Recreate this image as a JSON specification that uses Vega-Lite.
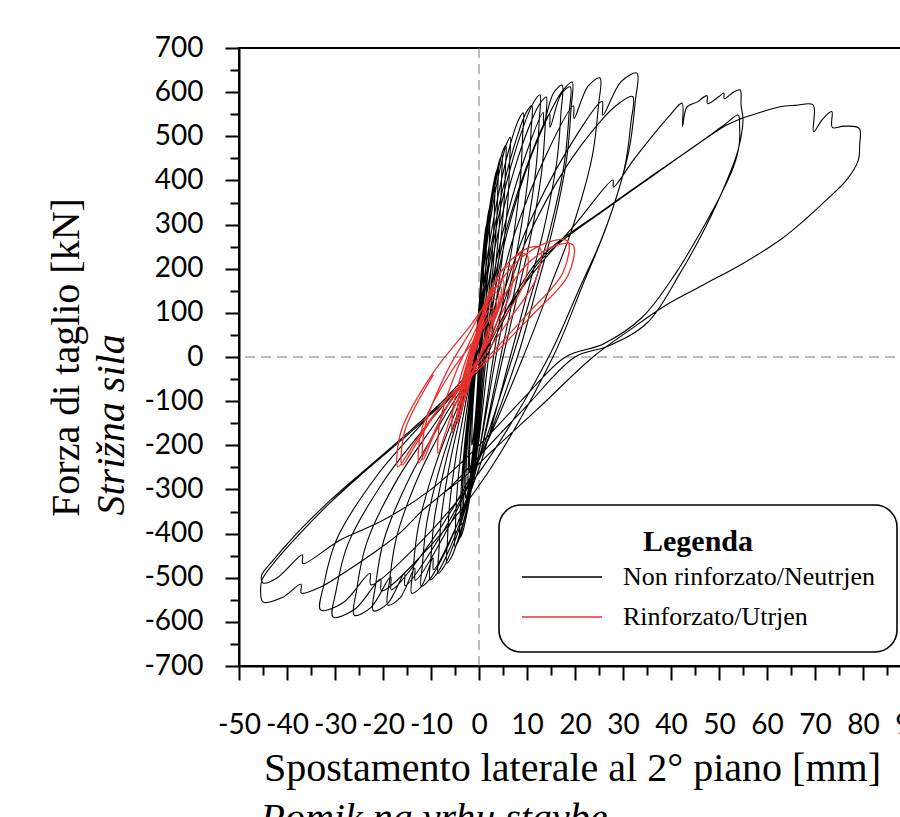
{
"$schema": "https://vega.github.io/schema/vega-lite/v6.json",
"width": 672, "height": 618,
"autosize": {"type": "none"},
"padding": {"left": 239, "top": 48, "right": 0, "bottom": 151},
"background": "white",
"config": {"view": {"stroke": "black", "strokeWidth": 2}, "axis": {"grid": false, "domainColor": "black", "tickColor": "black", "labelColor": "black", "titleColor": "black"}},
"datasets": {
"black": [
{"x":0,"y":0},{"x":0.3,"y":104},{"x":0.55,"y":166},{"x":0.78,"y":207},{"x":0.9,"y":223},{"x":1.0,"y":230},
{"x":0.98,"y":207},{"x":0.9,"y":166},{"x":0.65,"y":108},{"x":0.35,"y":58},{"x":0,"y":0},
{"x":-0.45,"y":-90},{"x":-0.83,"y":-144},{"x":-1.17,"y":-180},{"x":-1.35,"y":-194},{"x":-1.5,"y":-200},
{"x":-1.48,"y":-180},{"x":-1.4,"y":-144},{"x":-1.15,"y":-94},{"x":-0.85,"y":-50},{"x":-0.5,"y":0},
{"x":0.13,"y":135},{"x":0.66,"y":216},{"x":1.14,"y":270},{"x":1.39,"y":291},{"x":1.6,"y":300},
{"x":1.57,"y":270},{"x":1.46,"y":216},{"x":1.11,"y":141},{"x":0.69,"y":75},{"x":0.2,"y":0},
{"x":-0.46,"y":-117},{"x":-1.01,"y":-187},{"x":-1.52,"y":-234},{"x":-1.78,"y":-252},{"x":-2.0,"y":-260},
{"x":-1.97,"y":-234},{"x":-1.86,"y":-187},{"x":-1.51,"y":-122},{"x":-1.09,"y":-65},{"x":-0.6,"y":0},
{"x":0.27,"y":153},{"x":1.0,"y":245},{"x":1.66,"y":306},{"x":2.01,"y":330},{"x":2.3,"y":340},
{"x":2.26,"y":306},{"x":2.11,"y":245},{"x":1.64,"y":160},{"x":1.07,"y":85},{"x":0.4,"y":0},
{"x":-0.41,"y":-131},{"x":-1.09,"y":-209},{"x":-1.71,"y":-261},{"x":-2.03,"y":-281},{"x":-2.3,"y":-290},
{"x":-2.27,"y":-261},{"x":-2.14,"y":-209},{"x":-1.74,"y":-136},{"x":-1.26,"y":-73},{"x":-0.7,"y":0},
{"x":0.5,"y":176},{"x":1.5,"y":281},{"x":2.42,"y":351},{"x":2.9,"y":378},{"x":3.3,"y":390},
{"x":3.25,"y":351},{"x":3.04,"y":281},{"x":2.39,"y":183},{"x":1.61,"y":98},{"x":0.7,"y":0},
{"x":-0.35,"y":-144},{"x":-1.23,"y":-230},{"x":-2.03,"y":-288},{"x":-2.45,"y":-310},{"x":-2.8,"y":-320},
{"x":-2.76,"y":-288},{"x":-2.6,"y":-230},{"x":-2.1,"y":-150},{"x":-1.5,"y":-80},{"x":-0.8,"y":0},
{"x":0.64,"y":194},{"x":1.84,"y":310},{"x":2.94,"y":387},{"x":3.52,"y":417},{"x":4.0,"y":430},
{"x":3.94,"y":387},{"x":3.69,"y":310},{"x":2.92,"y":202},{"x":1.99,"y":108},{"x":0.9,"y":0},
{"x":-0.33,"y":-158},{"x":-1.36,"y":-252},{"x":-2.3,"y":-315},{"x":-2.79,"y":-340},{"x":-3.2,"y":-350},
{"x":-3.15,"y":-315},{"x":-2.97,"y":-252},{"x":-2.4,"y":-165},{"x":-1.71,"y":-88},{"x":-0.9,"y":0},
{"x":0.81,"y":206},{"x":2.24,"y":330},{"x":3.55,"y":412},{"x":4.23,"y":444},{"x":4.8,"y":458},
{"x":4.73,"y":412},{"x":4.44,"y":330},{"x":3.54,"y":215},{"x":2.46,"y":115},{"x":1.2,"y":0},
{"x":-0.24,"y":-171},{"x":-1.44,"y":-274},{"x":-2.54,"y":-342},{"x":-3.12,"y":-369},{"x":-3.6,"y":-380},
{"x":-3.55,"y":-342},{"x":-3.34,"y":-274},{"x":-2.69,"y":-179},{"x":-1.91,"y":-95},{"x":-1.0,"y":0},
{"x":0.98,"y":216},{"x":2.63,"y":346},{"x":4.15,"y":432},{"x":4.94,"y":466},{"x":5.6,"y":480},
{"x":5.52,"y":432},{"x":5.19,"y":346},{"x":4.17,"y":226},{"x":2.94,"y":120},{"x":1.5,"y":0},
{"x":-0.15,"y":-185},{"x":-1.53,"y":-295},{"x":-2.79,"y":-369},{"x":-3.45,"y":-398},{"x":-4.0,"y":-410},
{"x":-3.94,"y":-369},{"x":-3.7,"y":-295},{"x":-2.95,"y":-193},{"x":-2.05,"y":-103},{"x":-1.0,"y":0},
{"x":1.25,"y":224},{"x":3.13,"y":359},{"x":4.85,"y":448},{"x":5.75,"y":483},{"x":6.5,"y":498},
{"x":6.41,"y":448},{"x":6.05,"y":359},{"x":4.93,"y":234},{"x":3.58,"y":125},{"x":2.0,"y":0},
{"x":-0.1,"y":-194},{"x":-1.85,"y":-310},{"x":-3.46,"y":-387},{"x":-4.3,"y":-417},{"x":-5.0,"y":-430},
{"x":-4.92,"y":-387},{"x":-4.6,"y":-310},{"x":-3.6,"y":-202},{"x":-2.4,"y":-108},{"x":-1.0,"y":0},
{"x":2.06,"y":249},{"x":4.61,"y":398},{"x":6.96,"y":498},{"x":8.18,"y":536},{"x":9.2,"y":553},
{"x":9.08,"y":498},{"x":8.58,"y":398},{"x":7.03,"y":260},{"x":5.17,"y":138},{"x":3.0,"y":0},
{"x":0.09,"y":-210},{"x":-2.34,"y":-336},{"x":-4.57,"y":-420},{"x":-5.73,"y":-453},{"x":-6.7,"y":-467},
{"x":-6.59,"y":-420},{"x":-6.13,"y":-336},{"x":-4.71,"y":-219},{"x":-3.0,"y":-117},{"x":-1.0,"y":0},
{"x":2.6,"y":257},{"x":5.6,"y":410},{"x":8.36,"y":513},{"x":9.8,"y":553},{"x":11,"y":570},
{"x":10.85,"y":513},{"x":10.25,"y":410},{"x":8.38,"y":268},{"x":6.13,"y":143},{"x":3.5,"y":0},
{"x":-0.1,"y":-221},{"x":-3.1,"y":-353},{"x":-5.86,"y":-441},{"x":-7.3,"y":-475},{"x":-8.5,"y":-490},
{"x":-8.35,"y":-441},{"x":-7.75,"y":-353},{"x":-5.88,"y":-230},{"x":-3.63,"y":-123},{"x":-1.0,"y":0},
{"x":3.11,"y":267},{"x":6.54,"y":428},{"x":9.69,"y":535},{"x":11.33,"y":576},{"x":12.7,"y":594},
{"x":12.54,"y":535},{"x":11.88,"y":428},{"x":9.83,"y":279},{"x":7.37,"y":149},{"x":4.5,"y":0},
{"x":0.09,"y":-227},{"x":-3.59,"y":-364},{"x":-6.97,"y":-455},{"x":-8.73,"y":-490},{"x":-10.2,"y":-505},
{"x":-10.01,"y":-455},{"x":-9.26,"y":-364},{"x":-6.91,"y":-237},{"x":-4.09,"y":-126},{"x":-0.8,"y":0},
{"x":3.64,"y":265},{"x":7.34,"y":424},{"x":10.74,"y":530},{"x":12.52,"y":571},{"x":14,"y":589},
{"x":13.82,"y":530},{"x":13.1,"y":424},{"x":10.85,"y":277},{"x":8.15,"y":147},{"x":5.0,"y":0},
{"x":-0.1,"y":-234},{"x":-4.35,"y":-374},{"x":-8.26,"y":-468},{"x":-10.3,"y":-504},{"x":-12,"y":-520},
{"x":-11.77,"y":-468},{"x":-10.85,"y":-374},{"x":-7.98,"y":-244},{"x":-4.53,"y":-130},{"x":-0.5,"y":0},
{"x":4.84,"y":277},{"x":9.29,"y":444},{"x":13.38,"y":554},{"x":13.45,"y":528},{"x":15.52,"y":598},{"x":17.3,"y":616},
{"x":17.08,"y":554},{"x":16.22,"y":444},{"x":13.52,"y":290},{"x":10.28,"y":154},{"x":6.5,"y":0},
{"x":0.35,"y":-241},{"x":-4.78,"y":-385},{"x":-9.49,"y":-482},{"x":-9.6,"y":-455},{"x":-11.95,"y":-519},{"x":-14,"y":-535},
{"x":-13.73,"y":-482},{"x":-12.65,"y":-385},{"x":-9.28,"y":-251},{"x":-5.23,"y":-134},{"x":-0.5,"y":0},
{"x":5.35,"y":275},{"x":10.23,"y":441},{"x":14.71,"y":551},{"x":14.8,"y":520},{"x":17.05,"y":594},{"x":19,"y":612},
{"x":18.76,"y":551},{"x":17.8,"y":441},{"x":14.8,"y":288},{"x":11.2,"y":153},{"x":7.0,"y":0},
{"x":-0.8,"y":-253},{"x":-7.3,"y":-405},{"x":-13.28,"y":-506},{"x":-13.4,"y":-478},{"x":-16.4,"y":-545},{"x":-19,"y":-562},
{"x":-18.62,"y":-506},{"x":-17.1,"y":-405},{"x":-12.35,"y":-264},{"x":-6.65,"y":-141},{"x":0,"y":0},
{"x":5.82,"y":280},{"x":10.67,"y":449},{"x":15.13,"y":561},{"x":17.46,"y":604},{"x":19.4,"y":623},
{"x":19.17,"y":561},{"x":18.26,"y":449},{"x":15.41,"y":293},{"x":12.0,"y":156},{"x":8.0,"y":0},
{"x":-1.0,"y":-259},{"x":-8.5,"y":-414},{"x":-15.4,"y":-518},{"x":-15.5,"y":-490},{"x":-19,"y":-558},{"x":-22,"y":-575},
{"x":-21.56,"y":-518},{"x":-19.8,"y":-414},{"x":-14.3,"y":-270},{"x":-7.7,"y":-144},{"x":0,"y":0},
{"x":7.56,"y":284},{"x":13.86,"y":455},{"x":19.66,"y":569},{"x":19.8,"y":540},{"x":22.68,"y":613},{"x":25.2,"y":632},
{"x":24.88,"y":569},{"x":23.6,"y":455},{"x":19.6,"y":297},{"x":14.8,"y":158},{"x":9.2,"y":0},
{"x":-1.36,"y":-263},{"x":-10.16,"y":-421},{"x":-18.26,"y":-527},{"x":-18.4,"y":-498},{"x":-22.48,"y":-567},{"x":-26,"y":-585},
{"x":-25.48,"y":-527},{"x":-23.4,"y":-421},{"x":-16.9,"y":-275},{"x":-8.9,"y":-146},{"x":0,"y":0},
{"x":9.87,"y":289},{"x":18.1,"y":463},{"x":25.66,"y":579},{"x":25.8,"y":548},{"x":29.6,"y":624},{"x":32.9,"y":643},
{"x":32.55,"y":579},{"x":31.15,"y":463},{"x":26.78,"y":302},{"x":21.53,"y":161},{"x":15.4,"y":0},
{"x":1.66,"y":-265},{"x":-9.79,"y":-424},{"x":-20.32,"y":-530},{"x":-20.5,"y":-503},{"x":-25.82,"y":-571},{"x":-30.4,"y":-589},
{"x":-29.78,"y":-530},{"x":-27.31,"y":-424},{"x":-19.59,"y":-277},{"x":-10.32,"y":-147},{"x":0.5,"y":0},
{"x":9.95,"y":266},{"x":17.83,"y":425},{"x":25.07,"y":531},{"x":28.85,"y":572},{"x":32,"y":590},
{"x":31.65,"y":531},{"x":30.25,"y":425},{"x":25.88,"y":277},{"x":20.63,"y":148},{"x":14.5,"y":0},
{"x":0.25,"y":-258},{"x":-11.63,"y":-413},{"x":-22.55,"y":-516},{"x":-22.7,"y":-490},{"x":-28.25,"y":-556},{"x":-33,"y":-573},
{"x":-32.33,"y":-516},{"x":-29.65,"y":-413},{"x":-21.28,"y":-269},{"x":-11.23,"y":-143},{"x":0.5,"y":0},
{"x":6,"y":110},{"x":12,"y":200},{"x":20,"y":300},{"x":27.9,"y":401},{"x":28,"y":385},{"x":32.5,"y":451},{"x":39.8,"y":548},{"x":42.3,"y":575},{"x":42.4,"y":522},{"x":43.3,"y":566},{"x":45.5,"y":578},{"x":47.5,"y":592},{"x":47.6,"y":574},{"x":50,"y":590},{"x":51,"y":598},{"x":51.1,"y":585},{"x":53,"y":600},{"x":54.4,"y":605},
{"x":54.6,"y":570},{"x":55,"y":537},{"x":54,"y":470},{"x":51.7,"y":401},{"x":47,"y":290},{"x":41.9,"y":190},{"x":35,"y":77},{"x":27,"y":25},{"x":20,"y":0},
{"x":10,"y":-110},{"x":0,"y":-225},{"x":-6,"y":-295},{"x":-11.7,"y":-347},{"x":-16.5,"y":-399},{"x":-22,"y":-444},{"x":-28,"y":-488},{"x":-33,"y":-521},{"x":-37,"y":-535},{"x":-37.1,"y":-515},{"x":-41,"y":-545},{"x":-45,"y":-555},
{"x":-45.5,"y":-530},{"x":-45.2,"y":-505},{"x":-43,"y":-470},{"x":-38,"y":-408},{"x":-31,"y":-330},{"x":-24.2,"y":-263},{"x":-14.4,"y":-172},{"x":-6.7,"y":-97},{"x":0,"y":-30},{"x":1,"y":0},
{"x":4,"y":70},{"x":8,"y":150},{"x":12,"y":215},{"x":17,"y":265},{"x":25,"y":326},{"x":35,"y":403},{"x":45,"y":478},{"x":51,"y":525},{"x":54,"y":548},
{"x":54.3,"y":520},{"x":54.2,"y":480},{"x":53,"y":430},{"x":50.5,"y":370},{"x":46,"y":280},{"x":41,"y":190},{"x":34,"y":90},{"x":26,"y":30},{"x":18,"y":0},
{"x":10,"y":-85},{"x":0,"y":-200},{"x":-10,"y":-300},{"x":-20,"y":-370},{"x":-29,"y":-415},{"x":-36.7,"y":-468},{"x":-36.8,"y":-448},{"x":-42,"y":-500},{"x":-45,"y":-512},
{"x":-45.3,"y":-495},{"x":-43,"y":-462},{"x":-38,"y":-400},{"x":-31,"y":-325},{"x":-24,"y":-258},{"x":-14.4,"y":-168},{"x":-6.7,"y":-92},{"x":0,"y":-25},{"x":1.5,"y":0},
{"x":4.5,"y":70},{"x":8.5,"y":150},{"x":12.5,"y":215},{"x":17.5,"y":265},{"x":25.5,"y":328},{"x":35.5,"y":405},{"x":45.5,"y":482},{"x":51.5,"y":525},{"x":54.6,"y":540},{"x":58,"y":552},{"x":62.7,"y":567},{"x":66,"y":570},{"x":69.6,"y":571},{"x":69.7,"y":510},{"x":71.5,"y":538},{"x":73.5,"y":556},{"x":73.6,"y":520},{"x":76,"y":523},{"x":79.2,"y":518},
{"x":79.3,"y":480},{"x":79,"y":445},{"x":76.5,"y":400},{"x":73,"y":362},{"x":68,"y":312},{"x":62.7,"y":265},{"x":55,"y":212},{"x":47,"y":165},{"x":39,"y":118},{"x":31,"y":58},{"x":23.75,"y":0},{"x":12,"y":-120},{"x":3,"y":-210},{"x":-2,"y":-262},{"x":-7,"y":-305}
],
"red": [
{"x":0,"y":0},{"x":1,"y":35},{"x":2,"y":70},
{"x":1.88,"y":52},{"x":1.0,"y":27},{"x":0,"y":1},{"x":-1.04,"y":-25},{"x":-1.68,"y":-48},{"x":-2,"y":-60},
{"x":-1.91,"y":-36},{"x":-1.1,"y":2},{"x":-0.07,"y":35},{"x":1.15,"y":77},{"x":2.05,"y":90},{"x":2.5,"y":90},
{"x":2.35,"y":66},{"x":1.25,"y":34},{"x":0,"y":0},{"x":-1.3,"y":-34},{"x":-2.1,"y":-65},{"x":-2.5,"y":-80},
{"x":-2.39,"y":-50},{"x":-1.4,"y":-2},{"x":-0.14,"y":40},{"x":1.35,"y":93},{"x":2.45,"y":110},{"x":3,"y":110},
{"x":2.82,"y":81},{"x":1.5,"y":42},{"x":0,"y":1},{"x":-1.56,"y":-40},{"x":-2.52,"y":-77},{"x":-3,"y":-95},
{"x":-2.87,"y":-59},{"x":-1.7,"y":-3},{"x":-0.2,"y":47},{"x":1.55,"y":110},{"x":2.85,"y":130},{"x":3.5,"y":130},
{"x":3.29,"y":96},{"x":1.75,"y":49},{"x":0,"y":0},{"x":-1.82,"y":-49},{"x":-2.94,"y":-93},{"x":-3.5,"y":-115},
{"x":-3.35,"y":-73},{"x":-2.0,"y":-8},{"x":-0.28,"y":49},{"x":1.75,"y":122},{"x":3.25,"y":145},{"x":4,"y":145},
{"x":3.76,"y":106},{"x":2,"y":53},{"x":0,"y":-3},{"x":-2.08,"y":-59},{"x":-3.36,"y":-110},{"x":-4,"y":-135},
{"x":-3.83,"y":-88},{"x":-2.3,"y":-14},{"x":-0.35,"y":51},{"x":1.95,"y":134},{"x":3.65,"y":160},{"x":4.5,"y":160},
{"x":4.23,"y":117},{"x":2.25,"y":58},{"x":0,"y":-4},{"x":-2.34,"y":-66},{"x":-3.78,"y":-122},{"x":-4.5,"y":-150},
{"x":-4.31,"y":-98},{"x":-2.6,"y":-17},{"x":-0.42,"y":55},{"x":2.15,"y":146},{"x":4.05,"y":175},{"x":5,"y":175},
{"x":4.68,"y":126},{"x":2.35,"y":61},{"x":-0.3,"y":-9},{"x":-3.06,"y":-78},{"x":-4.75,"y":-141},{"x":-5.6,"y":-172},
{"x":-5.35,"y":-112},{"x":-3.08,"y":-18},{"x":-0.18,"y":65},{"x":3.22,"y":170},{"x":5.74,"y":204},{"x":7,"y":204},
{"x":6.54,"y":145},{"x":3.13,"y":65},{"x":-0.75,"y":-20},{"x":-4.78,"y":-104},{"x":-7.26,"y":-180},{"x":-8.5,"y":-218},
{"x":-8.13,"y":-146},{"x":-4.8,"y":-34},{"x":-0.55,"y":65},{"x":4.45,"y":191},{"x":8.15,"y":231},{"x":10,"y":231},
{"x":9.35,"y":166},{"x":4.58,"y":78},{"x":-0.85,"y":-15},{"x":-6.49,"y":-108},{"x":-9.96,"y":-191},{"x":-11.7,"y":-233},
{"x":-11.21,"y":-156},{"x":-6.82,"y":-36},{"x":-1.21,"y":69},{"x":5.38,"y":204},{"x":10.26,"y":247},{"x":12.7,"y":247},
{"x":11.94,"y":179},{"x":6.4,"y":86},{"x":0.1,"y":-11},{"x":-6.45,"y":-109},{"x":-10.48,"y":-196},{"x":-12.5,"y":-240},
{"x":-11.86,"y":-161},{"x":-6.08,"y":-38},{"x":1.3,"y":71},{"x":9.97,"y":210},{"x":16.39,"y":254},{"x":19.6,"y":254},
{"x":18.5,"y":184},{"x":10.48,"y":88},{"x":1.35,"y":-13},{"x":-8.14,"y":-113},{"x":-13.98,"y":-204},{"x":-16.9,"y":-249},
{"x":-16.19,"y":-167},{"x":-9.82,"y":-40},{"x":-1.68,"y":73},{"x":7.88,"y":216},{"x":14.96,"y":262},{"x":18.5,"y":262},
{"x":17.47,"y":191},{"x":9.88,"y":95},{"x":1.25,"y":-7},{"x":-7.72,"y":-108},{"x":-13.24,"y":-199},{"x":-16,"y":-245},
{"x":-15.4,"y":-165},{"x":-9.5,"y":-40}
]
},
"layer": [
{"layer": [
{"data": {"values": [{}]}, "mark": {"type": "rule", "color": "#7a7a7a", "strokeDash": [10, 6], "strokeWidth": 1}, "encoding": {"x": {"datum": 0, "type": "quantitative"}}},
{"data": {"values": [{}]}, "mark": {"type": "rule", "color": "#7a7a7a", "strokeDash": [10, 6], "strokeWidth": 1}, "encoding": {"y": {"datum": 0, "type": "quantitative"}}},
{"data": {"name": "black"}, "mark": {"type": "line", "strokeWidth": 1.1, "interpolate": "catmull-rom"},
 "encoding": {
  "x": {"field": "x", "type": "quantitative", "scale": {"domain": [-50, 90], "nice": false, "zero": false},
   "axis": {"orient": "bottom", "values": [-50,-40,-30,-20,-10,0,10,20,30,40,50,60,70,80,90], "tickSize": 14, "tickWidth": 2, "domainWidth": 2,
    "labelFont": "Lato", "labelFontSize": 28, "labelPadding": 31, "labelFlush": false, "labelOverlap": false, "labelExpr": "'' + datum.value",
    "title": "Spostamento laterale al 2° piano [mm]", "titleFont": "Liberation Serif", "titleFontSize": 40, "titleFontWeight": "normal",
    "titleX": 333, "titleY": 114, "titleAlign": "center", "titleBaseline": "alphabetic"}},
  "y": {"field": "y", "type": "quantitative", "scale": {"domain": [-700, 700], "nice": false, "zero": false},
   "axis": {"orient": "left", "values": [-700,-600,-500,-400,-300,-200,-100,0,100,200,300,400,500,600,700], "tickSize": 14, "tickWidth": 2, "domainWidth": 2,
    "labelFont": "Lato", "labelFontSize": 28, "labelPadding": 22, "labelOverlap": false, "labelFlush": false, "labelExpr": "'' + datum.value",
    "title": "Forza di taglio [kN]", "titleFont": "Liberation Serif", "titleFontSize": 40, "titleFontWeight": "normal",
    "titleAngle": 270, "titleX": -161, "titleY": 309, "titleAlign": "center", "titleBaseline": "alphabetic"}},
  "order": {"value": null},
  "color": {"datum": "Non rinforzato/Neutrjen", "type": "nominal",
   "scale": {"domain": ["Non rinforzato/Neutrjen", "Rinforzato/Utrjen"], "range": ["black", "#e8312e"]},
   "legend": {"title": "Legenda", "orient": "bottom-right", "offset": 14, "direction": "vertical", "padding": 22, "cornerRadius": 22,
    "strokeColor": "black", "fillColor": "white",
    "titleFont": "Liberation Serif", "titleFontSize": 30, "titleFontWeight": "bold", "titleColor": "black", "titleAnchor": "middle", "titlePadding": 10,
    "labelFont": "Liberation Serif", "labelFontSize": 26, "labelColor": "black", "labelOffset": 20, "labelLimit": 0,
    "symbolType": "stroke", "symbolSize": 6400, "symbolStrokeWidth": 1.5, "clipHeight": 20, "rowPadding": 14,
    "encode": {"legend": {"update": {"strokeWidth": {"value": 1.6}}}}}}
 }}
]},
{"data": {"name": "red"}, "mark": {"type": "line", "strokeWidth": 1.3, "interpolate": "catmull-rom"},
 "encoding": {
  "x": {"field": "x", "type": "quantitative", "scale": {"domain": [-50, 90], "nice": false, "zero": false},
   "axis": {"orient": "bottom", "values": [-45,-35,-25,-15,-5,5,15,25,35,45,55,65,75,85], "tickSize": 9, "tickWidth": 2, "domain": false, "labels": false,
    "title": "Pomik na vrhu stavbe", "titleFont": "Liberation Serif", "titleFontSize": 40, "titleFontWeight": "normal", "titleFontStyle": "italic",
    "titleX": 21, "titleY": 164, "titleAlign": "left", "titleBaseline": "alphabetic"}},
  "y": {"field": "y", "type": "quantitative", "scale": {"domain": [-700, 700], "nice": false, "zero": false},
   "axis": {"orient": "left", "values": [-650,-550,-450,-350,-250,-150,-50,50,150,250,350,450,550,650], "tickSize": 9, "tickWidth": 2, "domain": false, "labels": false,
    "title": "Strižna sila", "titleFont": "Liberation Serif", "titleFontSize": 40, "titleFontWeight": "normal", "titleFontStyle": "italic",
    "titleAngle": 270, "titleX": -116, "titleY": 467, "titleAlign": "left", "titleBaseline": "alphabetic"}},
  "order": {"value": null},
  "color": {"datum": "Rinforzato/Utrjen", "type": "nominal"}
 }}
],
"resolve": {"scale": {"x": "independent", "y": "independent"}}
}
